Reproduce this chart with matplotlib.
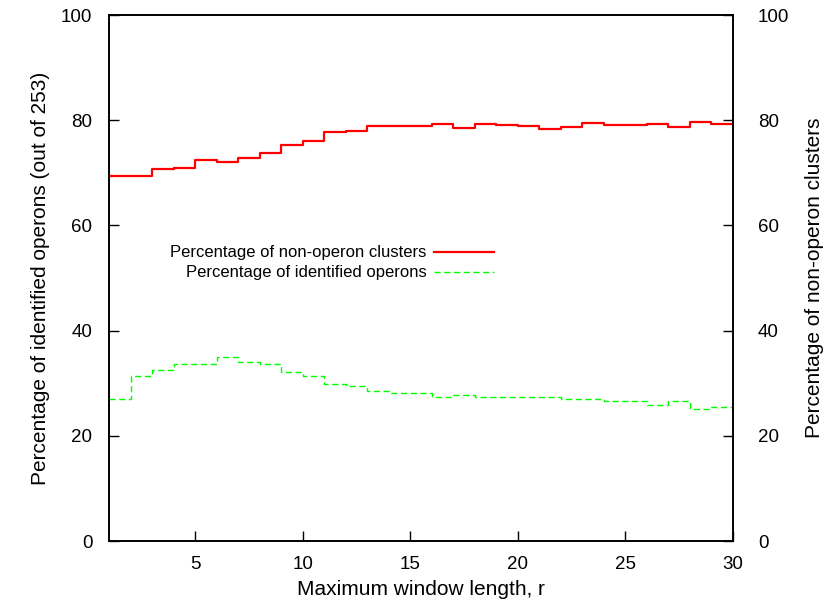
import numpy as np
import matplotlib
matplotlib.use('Agg')
import matplotlib.pyplot as plt

plt.rcParams['font.family'] = ['Liberation Sans', 'DejaVu Sans']
plt.rcParams['font.size'] = 12

# maximum window length r = 1..30
r = np.arange(1, 31)

# percentage of non-operon clusters (right axis)
nonoperon = [69.4, 69.4, 70.8, 71.0, 72.4, 72.0, 72.9, 73.8, 75.3, 76.0,
             77.7, 78.0, 78.9, 78.95, 78.95, 79.2, 78.6, 79.2, 79.0, 78.95,
             78.4, 78.8, 79.4, 79.1, 79.0, 79.2, 78.7, 79.6, 79.2, 79.2]

# percentage of identified operons, out of 253 (left axis)
operons = [27.0, 31.4, 32.5, 33.7, 33.7, 34.9, 34.1, 33.7, 32.1, 31.4,
           29.9, 29.4, 28.6, 28.2, 28.1, 27.4, 27.8, 27.4, 27.4, 27.4,
           27.4, 27.0, 27.0, 26.7, 26.7, 25.9, 26.7, 25.1, 25.5, 25.5]

fig = plt.figure(figsize=(8.3, 6.1), dpi=100)
ax = fig.add_axes([109 / 830, 69 / 610, 624 / 830, 526 / 610])
ax2 = ax.twinx()

l1, = ax2.step(r, nonoperon, where='post', color='#ff0000', linewidth=1.6,
               label='Percentage of non-operon clusters')
l2, = ax.step(r, operons, where='post', color='#00ff00', linewidth=1.0,
              dashes=(4.5, 2.5), label='Percentage of identified operons')

for a in (ax, ax2):
    a.set_ylim(0, 100)
    a.set_yticks([0, 20, 40, 60, 80, 100])
    a.tick_params(direction='in', length=7, width=1, labelsize=13.5)
    for s in a.spines.values():
        s.set_linewidth(1.2)
ax.set_xlim(1, 30)
ax.set_xticks([5, 10, 15, 20, 25, 30])
ax.tick_params(axis='x', pad=11)
ax.tick_params(axis='y', pad=12)
ax2.tick_params(axis='y', pad=18)

ax.set_xlabel('Maximum window length, r', fontsize=15, labelpad=5)
ax.set_ylabel('Percentage of identified operons (out of 253)', fontsize=15,
              labelpad=8)
ax2.set_ylabel('Percentage of non-operon clusters', fontsize=15, labelpad=11)

leg = ax.legend([l1, l2], [l1.get_label(), l2.get_label()], frameon=False,
                markerfirst=False, handlelength=3.6, handletextpad=0.45,
                labelspacing=0.3, loc='center',
                bbox_to_anchor=(332 / 830, 1 - 263 / 610),
                bbox_transform=fig.transFigure)

fig.savefig('out.png', dpi=100)
